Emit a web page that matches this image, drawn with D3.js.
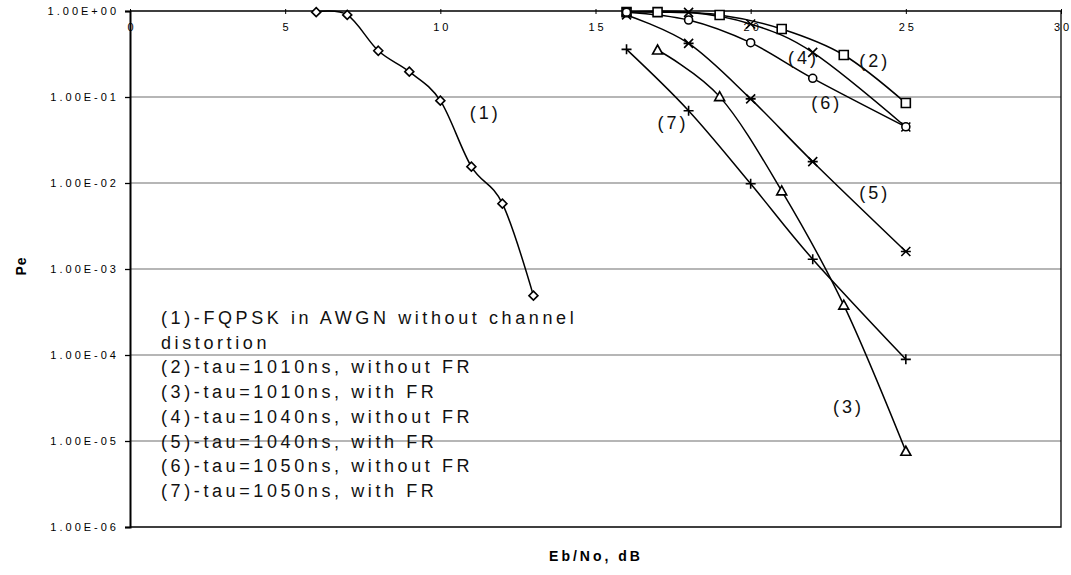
<!DOCTYPE html>
<html>
<head>
<meta charset="utf-8">
<script src="https://cdn.jsdelivr.net/npm/d3@7"></script>
<style>
  html, body { margin: 0; padding: 0; background: #fff; }
  svg { display: block; font-family: Arial, "Liberation Sans", sans-serif; }
</style>
</head>
<body>
<svg id="chart" width="1071" height="575"></svg>
<script>
// Bit error probability versus Eb/No for FQPSK, with and without FR
const xTicks = [0, 5, 10, 15, 20, 25, 30];
const yTicks = [1, 1e-1, 1e-2, 1e-3, 1e-4, 1e-5, 1e-6];
const yTickLabels = ["1.00E+00", "1.00E-01", "1.00E-02", "1.00E-03", "1.00E-04", "1.00E-05", "1.00E-06"];

const ebno1 = [6, 7, 8, 9, 10, 11, 12, 13];
const pe1 = [0.97, 0.90, 0.345, 0.197, 0.0906, 0.0155, 0.00575, 4.9e-4];

const ebno2 = [16, 17, 19, 21, 23, 25];
const pe2 = [0.97, 0.97, 0.90, 0.618, 0.308, 0.085];

const ebno3 = [17, 19, 21, 23, 25];
const pe3 = [0.352, 0.101, 0.0081, 3.8e-4, 7.6e-6];

const ebno4 = [16, 18, 20, 22, 25];
const pe4 = [0.97, 0.965, 0.706, 0.33, 0.0448];

const ebno5 = [16, 18, 20, 22, 25];
const pe5 = [0.90, 0.42, 0.095, 0.0177, 0.0016];

const ebno6 = [16, 18, 20, 22, 25];
const pe6 = [0.97, 0.786, 0.428, 0.165, 0.045];

const ebno7 = [16, 18, 20, 22, 25];
const pe7 = [0.358, 0.0693, 0.0098, 0.0013, 8.9e-5];

const seriesNames = ["(1)", "(2)", "(3)", "(4)", "(5)", "(6)", "(7)"];
const seriesMarkers = ["diamond", "square", "triangle", "cross", "asterisk", "circle", "plus"];
// where each curve's number is written, in data units
const labelX = [11.45, 24.0, 23.15, 21.7, 24.0, 22.45, 17.5];
const labelY = [0.065, 0.262, 2.5e-5, 0.284, 0.0076, 0.085, 0.05];

const legendLines = [
  "(1)-FQPSK in AWGN without channel",
  "distortion",
  "(2)-tau=1010ns, without FR",
  "(3)-tau=1010ns, with FR",
  "(4)-tau=1040ns, without FR",
  "(5)-tau=1040ns, with FR",
  "(6)-tau=1050ns, without FR",
  "(7)-tau=1050ns, with FR"
];

const series = [
  [ebno1, pe1], [ebno2, pe2], [ebno3, pe3], [ebno4, pe4],
  [ebno5, pe5], [ebno6, pe6], [ebno7, pe7]
].map(([xs, ys], i) => ({
  name: seriesNames[i],
  marker: seriesMarkers[i],
  points: xs.map((xv, j) => ({ x: xv, y: ys[j] }))
}));

const svg = d3.select("#chart");
const plotLeft = 130, plotRight = 1061, plotTop = 11, plotBottom = 527;

const x = d3.scaleLinear().domain([0, 30]).range([plotLeft, plotRight]);
const y = d3.scaleLog().domain([1e-6, 1]).range([plotBottom, plotTop]);

// horizontal gridlines
svg.append("g")
  .selectAll("line")
  .data(yTicks.slice(1, -1))
  .join("line")
  .attr("x1", plotLeft).attr("x2", plotRight)
  .attr("y1", d => y(d)).attr("y2", d => y(d))
  .attr("stroke", "#6e6e6e").attr("stroke-width", 1.2);

// plot frame: top, right and bottom edges
svg.append("path")
  .attr("d", `M${plotLeft},${plotTop}H${plotRight}V${plotBottom}H${plotLeft}`)
  .attr("fill", "none").attr("stroke", "#000").attr("stroke-width", 1.3);

// y axis on the left
const tickSpacing = 3;
const yAxis = d3.axisLeft(y)
  .tickValues(yTicks)
  .tickFormat((d, i) => yTickLabels[i])
  .tickSize(5)
  .tickPadding(9);
const gy = svg.append("g").attr("transform", `translate(${plotLeft},0)`).call(yAxis);
gy.select(".domain").attr("stroke", "#000").attr("stroke-width", 2);
gy.selectAll(".tick line").attr("stroke", "#000").attr("stroke-width", 1.3);
gy.selectAll(".tick text")
  .attr("font-size", 11)
  .attr("letter-spacing", tickSpacing + "px")
  .attr("dx", tickSpacing + "px")
  .attr("fill", "#000")
  .style("font-family", "Arial, 'Liberation Sans', sans-serif");

// x axis drawn along the top edge, numbers below it
const xAxis = d3.axisBottom(x).tickValues(xTicks).tickSize(3).tickPadding(9);
const gx = svg.append("g").attr("transform", `translate(0,${plotTop})`).call(xAxis);
gx.select(".domain").remove();
gx.selectAll(".tick line").attr("stroke", "#000").attr("y1", -2).attr("y2", 3);
gx.selectAll(".tick text")
  .attr("font-size", 11)
  .attr("letter-spacing", tickSpacing + "px")
  .attr("dx", (tickSpacing / 2) + "px")
  .attr("fill", "#000")
  .style("font-family", "Arial, 'Liberation Sans', sans-serif");

// curves
const line = d3.line()
  .x(d => x(d.x))
  .y(d => y(d.y))
  .curve(d3.curveCatmullRom.alpha(0));

svg.append("g")
  .selectAll("path")
  .data(series)
  .join("path")
  .attr("d", d => line(d.points))
  .attr("fill", "none")
  .attr("stroke", "#000")
  .attr("stroke-width", 1.5);

// markers
function markerPath(type) {
  switch (type) {
    case "diamond": return "M0,-4.5L4.5,0L0,4.5L-4.5,0Z";
    case "square": return "M-4.5,-4.5H4.5V4.5H-4.5Z";
    case "triangle": return "M0,-5L5,4H-5Z";
    case "cross": return "M-4.5,-4.5L4.5,4.5M-4.5,4.5L4.5,-4.5";
    case "asterisk": return "M-4.5,-4.5L4.5,4.5M-4.5,4.5L4.5,-4.5M-5,0H5";
    case "plus": return "M-5,0H5M0,-5V5";
    default: return "";
  }
}
series.forEach(s => {
  const g = svg.append("g");
  const filled = ["diamond", "square", "triangle", "circle"].includes(s.marker);
  if (s.marker === "circle") {
    g.selectAll("circle").data(s.points).join("circle")
      .attr("cx", d => x(d.x)).attr("cy", d => y(d.y)).attr("r", 4)
      .attr("fill", "#fff").attr("stroke", "#000").attr("stroke-width", 1.6);
  } else {
    g.selectAll("path").data(s.points).join("path")
      .attr("transform", d => `translate(${x(d.x)},${y(d.y)})`)
      .attr("d", markerPath(s.marker))
      .attr("fill", filled ? "#fff" : "none")
      .attr("stroke", "#000")
      .attr("stroke-width", 1.6);
  }
});

// curve numbers
svg.append("g")
  .selectAll("text")
  .data(series)
  .join("text")
  .attr("x", (d, i) => x(labelX[i]))
  .attr("y", (d, i) => y(labelY[i]))
  .attr("text-anchor", "middle")
  .attr("dominant-baseline", "central")
  .attr("font-size", 18)
  .attr("letter-spacing", "3px")
  .attr("fill", "#111")
  .text(d => d.name);

// legend text block
svg.append("g")
  .selectAll("text")
  .data(legendLines)
  .join("text")
  .attr("x", 161)
  .attr("y", (d, i) => 318 + i * 24.7)
  .attr("dominant-baseline", "central")
  .attr("font-size", 18)
  .attr("letter-spacing", "3.6px")
  .attr("fill", "#111")
  .text(d => d);

// axis titles
svg.append("text")
  .attr("transform", "translate(21,266) rotate(-90)")
  .attr("text-anchor", "middle")
  .attr("dominant-baseline", "central")
  .attr("font-size", 14)
  .attr("font-weight", "bold")
  .attr("letter-spacing", "1px")
  .text("Pe");

svg.append("text")
  .attr("x", 596)
  .attr("y", 556)
  .attr("text-anchor", "middle")
  .attr("dominant-baseline", "central")
  .attr("font-size", 14)
  .attr("font-weight", "bold")
  .attr("letter-spacing", "3px")
  .text("Eb/No, dB");
</script>
</body>
</html>
